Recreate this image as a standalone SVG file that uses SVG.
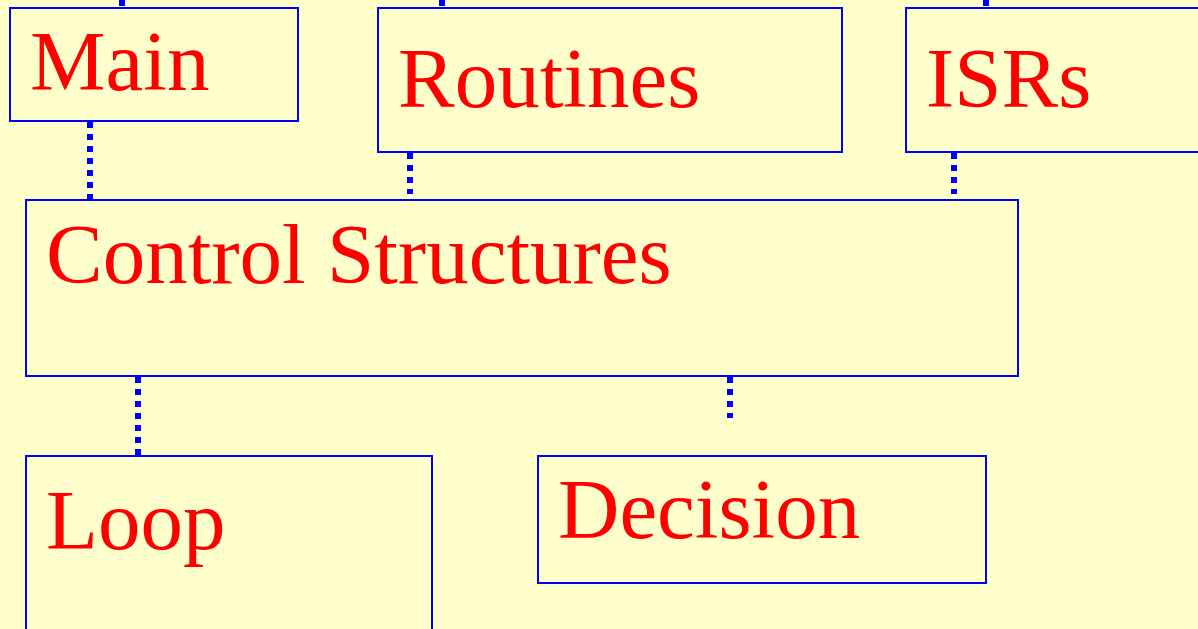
<svg xmlns="http://www.w3.org/2000/svg" width="1198" height="629" viewBox="0 0 1198 629">
<style>
.box{fill:#FFFFCC;stroke:#0000FF;stroke-width:2}
.lbl{fill:#FF0000;font-family:"Liberation Serif","Times New Roman",serif;font-size:85px}
.dot{stroke:#0000FF;stroke-width:6;stroke-dasharray:6 6;fill:none}
</style>
<rect width="1198" height="629" fill="#FFFFCC"/>
<g id="connectors">
<line class="dot" x1="122" y1="0" x2="122" y2="6"/>
<line class="dot" x1="442" y1="0" x2="442" y2="6"/>
<line class="dot" x1="986" y1="0" x2="986" y2="6"/>
<line class="dot" x1="90" y1="122" x2="90" y2="199"/>
<line class="dot" x1="410" y1="153" x2="410" y2="194"/>
<line class="dot" x1="954" y1="153" x2="954" y2="194"/>
<line class="dot" x1="138" y1="377" x2="138" y2="455"/>
<line class="dot" x1="730" y1="377" x2="730" y2="418"/>
</g>
<g id="main"><rect class="box" x="10" y="8" width="288" height="113"/><text class="lbl" x="30" y="90">Main</text></g>
<g id="routines"><rect class="box" x="378" y="8" width="464" height="144"/><text class="lbl" x="398" y="107">Routines</text></g>
<g id="isrs"><rect class="box" x="906" y="8" width="300" height="144"/><text class="lbl" x="926" y="107">ISRs</text></g>
<g id="control"><rect class="box" x="26" y="200" width="992" height="176"/><text class="lbl" x="46" y="283">Control Structures</text></g>
<g id="loop"><rect class="box" x="26" y="456" width="406" height="190"/><text class="lbl" x="46" y="549">Loop</text></g>
<g id="decision"><rect class="box" x="538" y="456" width="448" height="127"/><text class="lbl" x="558" y="538">Decision</text></g>
</svg>
